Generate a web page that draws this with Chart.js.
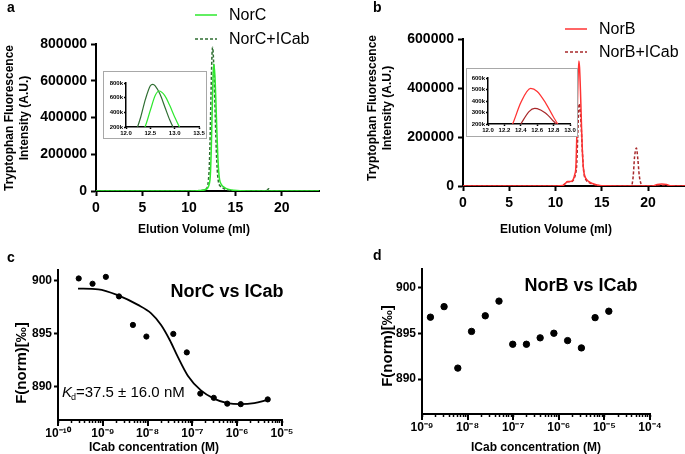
<!DOCTYPE html>
<html>
<head>
<meta charset="utf-8">
<script src="https://cdn.jsdelivr.net/npm/chart.js@4.4.1/dist/chart.umd.min.js"></script>
<style>
  body { margin: 0; background: #fff; }
  #fig { position: relative; width: 685px; height: 454px; overflow: hidden; }
  #fig canvas { position: absolute; }
</style>
</head>
<body>
<div id="fig">
  <canvas id="chartA" width="340" height="245" style="left:0;top:0"></canvas>
  <canvas id="chartB" width="345" height="245" style="left:340px;top:0"></canvas>
  <canvas id="chartC" width="340" height="209" style="left:0;top:245px"></canvas>
  <canvas id="chartD" width="345" height="209" style="left:340px;top:245px"></canvas>
  <canvas id="insetA" width="104" height="68" style="left:103px;top:71px"></canvas>
  <canvas id="insetB" width="112" height="69" style="left:466px;top:68px"></canvas>
</div>
<script>
// ---- data ----
// panel a: size exclusion, NorC alone / NorC + ICab
const norcVol = [0, 5, 10, 11, 11.5, 11.8, 12.0, 12.2, 12.3, 12.4, 12.5, 12.6, 12.68, 12.8, 12.9, 13.0, 13.1, 13.2, 13.3, 13.5, 13.8, 14.2, 14.8, 15.5, 18, 24];
const norcSignal = [0, 0, 500, 2000, 4000, 8000, 15000, 40000, 82000, 217000, 428000, 629000, 691000, 625000, 492000, 337000, 200000, 110000, 62000, 35000, 20000, 10000, 4000, 1000, 0, 0];
const norcIcabVol = [0, 5, 10, 11, 11.5, 11.8, 12.0, 12.1, 12.2, 12.3, 12.4, 12.5, 12.55, 12.6, 12.7, 12.8, 12.9, 13.0, 13.1, 13.2, 13.4, 13.7, 14.0, 14.5, 15, 18.3, 18.6, 18.9, 24];
const norcIcabSignal = [0, 0, 500, 2000, 4000, 10000, 25000, 60000, 140000, 330000, 580000, 762000, 782000, 761000, 645000, 470000, 295000, 160000, 80000, 45000, 25000, 15000, 8000, 3000, 1000, 0, 12000, 0, 0];

// panel b: NorB alone / NorB + ICab
const norbVol = [0, 5, 10, 10.8, 11.1, 11.3, 11.6, 11.9, 12.1, 12.2, 12.3, 12.4, 12.52, 12.6, 12.7, 12.8, 12.9, 13.0, 13.1, 13.3, 13.6, 14.0, 14.5, 15.0, 20.5, 21, 21.5, 22, 22.5, 24];
const norbSignal = [0, 0, 500, 2000, 12000, 18000, 18000, 25000, 50000, 75000, 200000, 386000, 510000, 483000, 386000, 259000, 147000, 80000, 50000, 30000, 18000, 10000, 4000, 1000, 0, 6000, 8000, 6000, 1000, 0];
const norbIcabVol = [0, 5, 10, 10.8, 11.1, 11.3, 11.6, 11.9, 12.1, 12.2, 12.3, 12.4, 12.5, 12.57, 12.6, 12.7, 12.8, 12.9, 13.0, 13.1, 13.3, 13.6, 14.0, 14.5, 15.0, 18.2, 18.4, 18.55, 18.75, 18.9, 19.05, 19.25, 19.4, 24];
const norbIcabSignal = [0, 0, 500, 2000, 12000, 17000, 17000, 22000, 40000, 55000, 91000, 200000, 308000, 336000, 334000, 295000, 224000, 145000, 81000, 45000, 25000, 15000, 8000, 3000, 1000, 0, 40000, 120000, 155000, 110000, 45000, 8000, 0, 0];

// panel c: MST NorC vs ICab
const concC = [2.9e-10, 5.9e-10, 1.17e-9, 2.3e-9, 4.7e-9, 9.4e-9, 3.75e-8, 7.5e-8, 1.5e-7, 3e-7, 6e-7, 1.2e-6, 4.8e-6];
const fnormC = [900.2, 899.7, 900.35, 898.5, 895.8, 894.7, 894.95, 893.2, 889.3, 888.9, 888.35, 888.3, 888.75];
const fitConcC = [2.8e-10, 7.9e-10, 2.2e-9, 6.1e-9, 1.2e-8, 2.0e-8, 3.1e-8, 4.7e-8, 7.9e-8, 1.55e-7, 3.1e-7, 6.0e-7, 1.2e-6, 2.4e-6, 4.7e-6];
const fitFnormC = [899.24, 899.17, 898.6, 897.7, 896.9, 895.8, 894.4, 892.8, 891.0, 889.6, 888.8, 888.4, 888.3, 888.4, 888.7];

// panel d: MST NorB vs ICab
const concD = [1.53e-9, 3.05e-9, 6.1e-9, 1.22e-8, 2.44e-8, 4.88e-8, 9.77e-8, 1.95e-7, 3.9e-7, 7.8e-7, 1.56e-6, 3.13e-6, 6.25e-6, 1.25e-5];
const fnormD = [896.75, 897.9, 891.2, 895.2, 896.9, 898.5, 893.8, 893.8, 894.5, 895.0, 894.2, 893.4, 896.7, 897.4];

// ticks
const fnormTicks = [890, 895, 900];

const FONT = '"Liberation Sans", Arial, Helvetica, sans-serif';
const GREEN = "#2ee82e";
const DARK_GREEN = "#2f6e32";
const RED = "#ff3333";
const DARK_RED = "#a8282a";

const pts = (xs, ys) => xs.map((x, i) => ({ x, y: ys[i] }));

const SUP = { "-": "\u207B", "0": "\u2070", "1": "\u00B9", "2": "\u00B2", "3": "\u00B3", "4": "\u2074", "5": "\u2075", "6": "\u2076", "7": "\u2077", "8": "\u2078", "9": "\u2079" };
const isPower = (v) => Math.abs(Math.log10(v) - Math.round(Math.log10(v))) < 1e-6;
function powerLabel(v) {
  if (!isPower(v)) return "";
  return "10" + String(Math.round(Math.log10(v))).split("").map((c) => SUP[c]).join("");
}
function logTicks(fromExp, toExp) {
  const t = [];
  for (let e = fromExp; e < toExp; e++) {
    for (let m = 1; m < 10; m++) t.push({ value: m * Math.pow(10, e) });
  }
  t.push({ value: Math.pow(10, toExp) });
  return t;
}

// axis box helpers: pin the plot area to where the figure has it
function fixX(h) {
  return (s) => { s.height = h; s.paddingLeft = 0; s.paddingRight = 0; };
}
function fixY(w) {
  return (s) => { s.width = w; s.paddingTop = 0; s.paddingBottom = 0; };
}
function axisStyle(fontSize, tickLen, pad, width) {
  return {
    border: { color: "#000", width: width },
    grid: { drawOnChartArea: false, drawTicks: true, tickLength: tickLen, tickWidth: width, tickColor: "#000" },
    ticks: { color: "#000", padding: pad, maxRotation: 0, autoSkip: false, font: { family: FONT, size: fontSize, weight: "bold" } },
  };
}

// free text + legend samples drawn onto a chart's canvas
function textLayer(items) {
  return {
    id: "textLayer",
    afterDraw(chart) {
      const ctx = chart.ctx;
      items.forEach((it) => {
        ctx.save();
        if (it.legend !== undefined) {
          const ds = chart.data.datasets[it.legend];
          ctx.strokeStyle = ds.borderColor;
          ctx.lineWidth = 1.5;
          ctx.setLineDash(ds.borderDash || []);
          ctx.beginPath();
          ctx.moveTo(it.x, it.y);
          ctx.lineTo(it.x + 22, it.y);
          ctx.stroke();
          ctx.setLineDash([]);
          ctx.font = "16px " + FONT;
          ctx.fillStyle = "#000";
          ctx.textAlign = "left";
          ctx.textBaseline = "middle";
          ctx.fillText(ds.label, it.x + 34, it.y + 1);
        } else {
          ctx.font = it.font;
          ctx.fillStyle = "#000";
          ctx.textAlign = it.align || "center";
          ctx.textBaseline = "middle";
          ctx.translate(it.x, it.y);
          if (it.rotate) ctx.rotate(it.rotate);
          ctx.fillText(it.text, 0, 0);
        }
        ctx.restore();
      });
    },
  };
}

// decade ticks on the log axes are a bit longer than the minor ones
const decadeTicks = {
  id: "decadeTicks",
  afterDraw(chart) {
    const s = chart.scales.x;
    const ctx = chart.ctx;
    ctx.save();
    ctx.strokeStyle = "#000";
    ctx.lineWidth = 2;
    s.ticks.forEach((t) => {
      if (!isPower(t.value)) return;
      const px = Math.round(s.getPixelForValue(t.value));
      ctx.beginPath();
      ctx.moveTo(px, s.top);
      ctx.lineTo(px, s.top + 6);
      ctx.stroke();
    });
    ctx.restore();
  },
};

const insetFrame = {
  id: "insetFrame",
  beforeDraw(chart) {
    const { ctx, width, height } = chart;
    ctx.save();
    ctx.fillStyle = "#fff";
    ctx.fillRect(0, 0, width, height);
    ctx.strokeStyle = "#a8a8a8";
    ctx.lineWidth = 1;
    ctx.strokeRect(0.5, 0.5, width - 1, height - 1);
    ctx.restore();
  },
};

const lineDefaults = { pointRadius: 0, borderWidth: 1.5, cubicInterpolationMode: "monotone", fill: false };
const UP = -Math.PI / 2;

function chromatogram(id, series, yMax, yStep, area, canvasH, texts) {
  const ax = axisStyle(14, 5, 4, 2);
  const ay = axisStyle(14, 5, 4, 2);
  return new Chart(document.getElementById(id), {
    type: "line",
    data: { datasets: series },
    options: {
      responsive: false,
      animation: false,
      layout: { padding: { top: area.top, right: area.right, left: 0, bottom: 0 } },
      plugins: { legend: { display: false }, tooltip: { enabled: false } },
      scales: {
        x: {
          type: "linear", min: 0, max: 24,
          afterFit: fixX(canvasH - area.bottom),
          border: ax.border, grid: ax.grid,
          ticks: { ...ax.ticks, stepSize: 5, includeBounds: false },
        },
        y: {
          type: "linear", min: 0, max: yMax,
          afterFit: fixY(area.left),
          border: ay.border, grid: ay.grid,
          ticks: { ...ay.ticks, stepSize: yStep, callback: (v) => String(v) },
        },
      },
    },
    plugins: [textLayer(texts)],
  });
}

function inset(id, series, xr, yr, area, canvasH) {
  const a = axisStyle(6, 2, 1, 1.5);
  return new Chart(document.getElementById(id), {
    type: "line",
    data: { datasets: series },
    options: {
      responsive: false,
      animation: false,
      layout: { padding: { top: area.top, right: area.right, left: 0, bottom: 0 } },
      plugins: { legend: { display: false }, tooltip: { enabled: false } },
      scales: {
        x: {
          type: "linear", min: xr[0], max: xr[1],
          afterFit: fixX(canvasH - area.bottom),
          border: a.border, grid: a.grid,
          ticks: { ...a.ticks, stepSize: xr[2], callback: (v) => v.toFixed(1) },
        },
        y: {
          type: "linear", min: yr[0], max: yr[1],
          afterFit: fixY(area.left),
          border: a.border, grid: a.grid,
          ticks: { ...a.ticks, stepSize: yr[2], callback: (v) => v / 1000 + "k" },
        },
      },
    },
    plugins: [insetFrame],
  });
}

function mst(id, datasets, xExp, yRange, area, canvasH, texts) {
  const ax = axisStyle(12, 3, 3, 1.5);
  const ay = axisStyle(12, 4, 2, 2);
  return new Chart(document.getElementById(id), {
    type: "scatter",
    data: { datasets: datasets },
    options: {
      responsive: false,
      animation: false,
      layout: { padding: { top: area.top, right: area.right, left: 0, bottom: 0 } },
      plugins: { legend: { display: false }, tooltip: { enabled: false } },
      scales: {
        x: {
          type: "logarithmic", min: Math.pow(10, xExp[0]), max: Math.pow(10, xExp[1]),
          afterFit: fixX(canvasH - area.bottom),
          afterBuildTicks: (s) => { s.ticks = logTicks(xExp[0], xExp[1]); },
          border: { color: "#000", width: 2 }, grid: ax.grid,
          ticks: { ...ax.ticks, callback: (v) => powerLabel(v) },
        },
        y: {
          type: "linear", min: yRange[0], max: yRange[1],
          afterFit: fixY(area.left),
          afterBuildTicks: (s) => { s.ticks = fnormTicks.map((v) => ({ value: v })); },
          border: ay.border, grid: ay.grid,
          ticks: { ...ay.ticks },
        },
      },
    },
    plugins: [textLayer(texts), decadeTicks],
  });
}

// ---- panel a ----
chromatogram("chartA", [
  { ...lineDefaults, label: "NorC", data: pts(norcVol, norcSignal), borderColor: GREEN },
  { ...lineDefaults, label: "NorC+ICab", data: pts(norcIcabVol, norcIcabSignal), borderColor: DARK_GREEN, borderDash: [3, 2] },
], 800000, 200000, { left: 96, top: 44, right: 21, bottom: 191 }, 245, [
  { text: "a", x: 7, y: 8, font: "bold 14px " + FONT, align: "left" },
  { legend: 0, x: 195, y: 15 },
  { legend: 1, x: 195, y: 39 },
  { text: "Tryptophan Fluorescence", x: 10, y: 118, rotate: UP, font: "bold 12px " + FONT },
  { text: "Intensity (A.U.)", x: 25, y: 118, rotate: UP, font: "bold 12px " + FONT },
  { text: "Elution Volume (ml)", x: 194, y: 230, font: "bold 12px " + FONT },
]);

// ---- panel b ----
chromatogram("chartB", [
  { ...lineDefaults, label: "NorB", data: pts(norbVol, norbSignal), borderColor: RED },
  { ...lineDefaults, label: "NorB+ICab", data: pts(norbIcabVol, norbIcabSignal), borderColor: DARK_RED, borderDash: [3, 2] },
], 600000, 200000, { left: 123, top: 39, right: 0, bottom: 186 }, 245, [
  { text: "b", x: 33, y: 8, font: "bold 14px " + FONT, align: "left" },
  { legend: 0, x: 225, y: 29 },
  { legend: 1, x: 225, y: 52 },
  { text: "Tryptophan Fluorescence", x: 33, y: 108, rotate: UP, font: "bold 12px " + FONT },
  { text: "Intensity (A.U.)", x: 48, y: 108, rotate: UP, font: "bold 12px " + FONT },
  { text: "Elution Volume (ml)", x: 216, y: 230, font: "bold 12px " + FONT },
]);

// ---- insets ----
inset("insetA", [
  { ...lineDefaults, label: "NorC", data: pts(norcVol, norcSignal), borderColor: GREEN, borderWidth: 1.2 },
  { ...lineDefaults, label: "NorC+ICab", data: pts(norcIcabVol, norcIcabSignal), borderColor: DARK_GREEN, borderWidth: 1.2 },
], [12, 13.5, 0.5], [200000, 800000, 200000], { left: 23, top: 12, right: 8, bottom: 56 }, 68);

inset("insetB", [
  { ...lineDefaults, label: "NorB", data: pts(norbVol, norbSignal), borderColor: RED, borderWidth: 1.2 },
  { ...lineDefaults, label: "NorB+ICab", data: pts(norbIcabVol, norbIcabSignal), borderColor: DARK_RED, borderWidth: 1.2 },
], [12, 13, 0.2], [200000, 600000, 100000], { left: 22, top: 10, right: 8, bottom: 56 }, 69);

// ---- panel c ----
mst("chartC", [
  { label: "NorC vs ICab", data: pts(concC, fnormC), backgroundColor: "#000", borderColor: "#000", pointRadius: 2.6, showLine: false },
  { label: "fit", data: pts(fitConcC, fitFnormC), borderColor: "#000", borderWidth: 1.8, pointRadius: 0, showLine: true, cubicInterpolationMode: "monotone" },
], [-10, -5], [886.8, 901], { left: 58, top: 25, right: 58, bottom: 175 }, 209, [
  { text: "c", x: 7, y: 13, font: "bold 14px " + FONT, align: "left" },
  { text: "F(norm)[\u2030]", x: 22, y: 118, rotate: UP, font: "bold 15px " + FONT },
  { text: "ICab concentration (M)", x: 154, y: 203, font: "bold 12px " + FONT },
  { text: "NorC vs ICab", x: 227, y: 47, font: "bold 18px " + FONT },
  { text: "K", x: 62, y: 148, font: "italic 15px " + FONT, align: "left" },
  { text: "d", x: 71, y: 153, font: "9px " + FONT, align: "left" },
  { text: "=37.5 \u00B1 16.0 nM", x: 76, y: 148, font: "15px " + FONT, align: "left" },
]);

// ---- panel d ----
mst("chartD", [
  { label: "NorB vs ICab", data: pts(concD, fnormD), backgroundColor: "#000", borderColor: "#000", pointRadius: 3.2, showLine: false },
], [-9, -4], [886.2, 902], { left: 82, top: 24, right: 35, bottom: 169 }, 209, [
  { text: "d", x: 33, y: 11, font: "bold 14px " + FONT, align: "left" },
  { text: "F(norm)[\u2030]", x: 48, y: 101, rotate: UP, font: "bold 15px " + FONT },
  { text: "ICab concentration (M)", x: 196, y: 203, font: "bold 12px " + FONT },
  { text: "NorB vs ICab", x: 241, y: 41, font: "bold 18px " + FONT },
]);
</script>
</body>
</html>
